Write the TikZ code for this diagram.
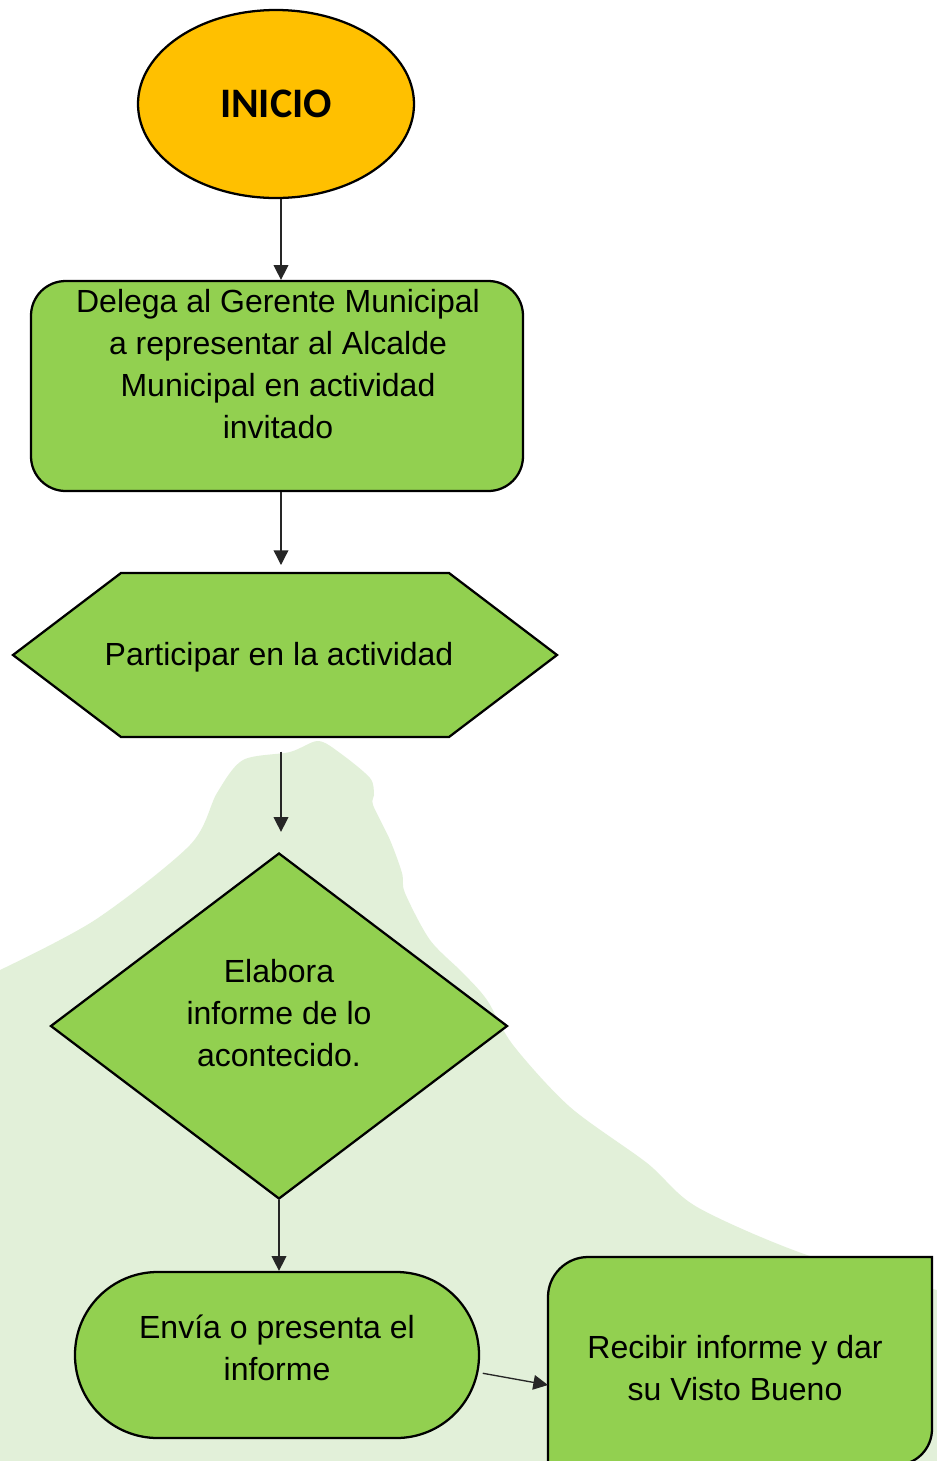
\documentclass[tikz,border=0pt]{standalone}
\usepackage{fontspec}
\setmainfont{Liberation Sans}
\newfontfamily\carl{Carlito}
\usetikzlibrary{shapes.geometric,arrows.meta}
\definecolor{gfill}{HTML}{92D050}
\definecolor{ofill}{HTML}{FFC000}
\definecolor{blobc}{HTML}{E2F0D9}
\begin{document}
\begin{tikzpicture}[x=0.75pt,y=-0.75pt,
  shp/.style={draw=black, line width=1.7pt, fill=gfill},
  ghost/.style={inner sep=0pt, outer sep=0pt},
  arr/.style={draw=black!85, line width=1pt, -{Triangle[length=11pt,width=11pt]}},
  txt/.style={align=center, font=\fontsize{24pt}{31.5pt}\selectfont, inner sep=0pt}]
\useasboundingbox (0,0) rectangle (937,1461);
\fill[white] (0,0) rectangle (937,1461);
% background blob
\fill[blobc] plot[smooth, tension=0.5] coordinates {(0,970) (95,920) (190,845) (217,793) (243,760) (290,752) (318,741) (340,753) (370,778) (374,795) (373,805) (390,840) (402,873) (405,893) (430,940) (463,973) (487,1000) (513,1045) (570,1107) (647,1163) (697,1207) (807,1255) (937,1290)} -- (937,1461) -- (0,1461) -- cycle;

% shapes
\node[shp, fill=ofill, ellipse, inner sep=0pt, minimum width=207pt, minimum height=141pt,
      font=\carl\bfseries\fontsize{31.5pt}{31.5pt}\selectfont] (ini) at (276,104) {INICIO};
\node[shp, rectangle, rounded corners=26pt, minimum width=369pt, minimum height=157.5pt] (box1) at (277,386) {};
\node[txt] (t1) at (278,364) {Delega al Gerente Municipal\\a representar al Alcalde\\Municipal en actividad\\invitado};

\draw[shp] (13,655) -- (121,573) -- (449,573) -- (557,655) -- (449,737) -- (121,737) -- cycle;
\node[ghost, minimum width=408pt, minimum height=123pt] (hex) at (285,655) {};
\node[txt] (t2) at (279,657) {Participar en la actividad};

\node[shp, diamond, inner sep=0pt, minimum width=342.75pt, minimum height=259.5pt] (dia) at (279,1026) {};
\node[txt] (t3) at (279,1013) {Elabora\\informe de lo\\acontecido.};

\node[shp, rectangle, rounded corners=62pt, minimum width=303pt, minimum height=124.5pt] (env) at (277,1355) {};
\node[txt] (t4) at (277,1348) {Envía o presenta el\\informe};

\draw[shp] (548,1470) -- (548,1297) .. controls (548,1275) and (566,1257) .. (588,1257) -- (932,1257) -- (932,1429) .. controls (932,1449) and (916,1465) .. (896,1465) -- (548,1465) -- cycle;
\node[ghost, minimum width=288pt, minimum height=192pt] (rec) at (740,1385) {};
\node[txt] (t5) at (735,1368) {Recibir informe y dar\\su Visto Bueno};

% connectors
\coordinate (ax1) at (281,0);
\coordinate (ax2) at (279,0);
\draw[arr] (ini.south -| ax1) -- (box1.north -| ax1);
\draw[arr, shorten >=6pt] (box1.south -| ax1) -- (hex.north -| ax1);
\draw[arr, shorten <=11pt, shorten >=15pt] (hex.south -| ax1) -- (dia.north -| ax1);
\draw[arr] (dia.south) -- (env.north -| ax2);
\draw[arr, shorten <=2pt] (env.-5) -- (rec.west);
\end{tikzpicture}
\end{document}
